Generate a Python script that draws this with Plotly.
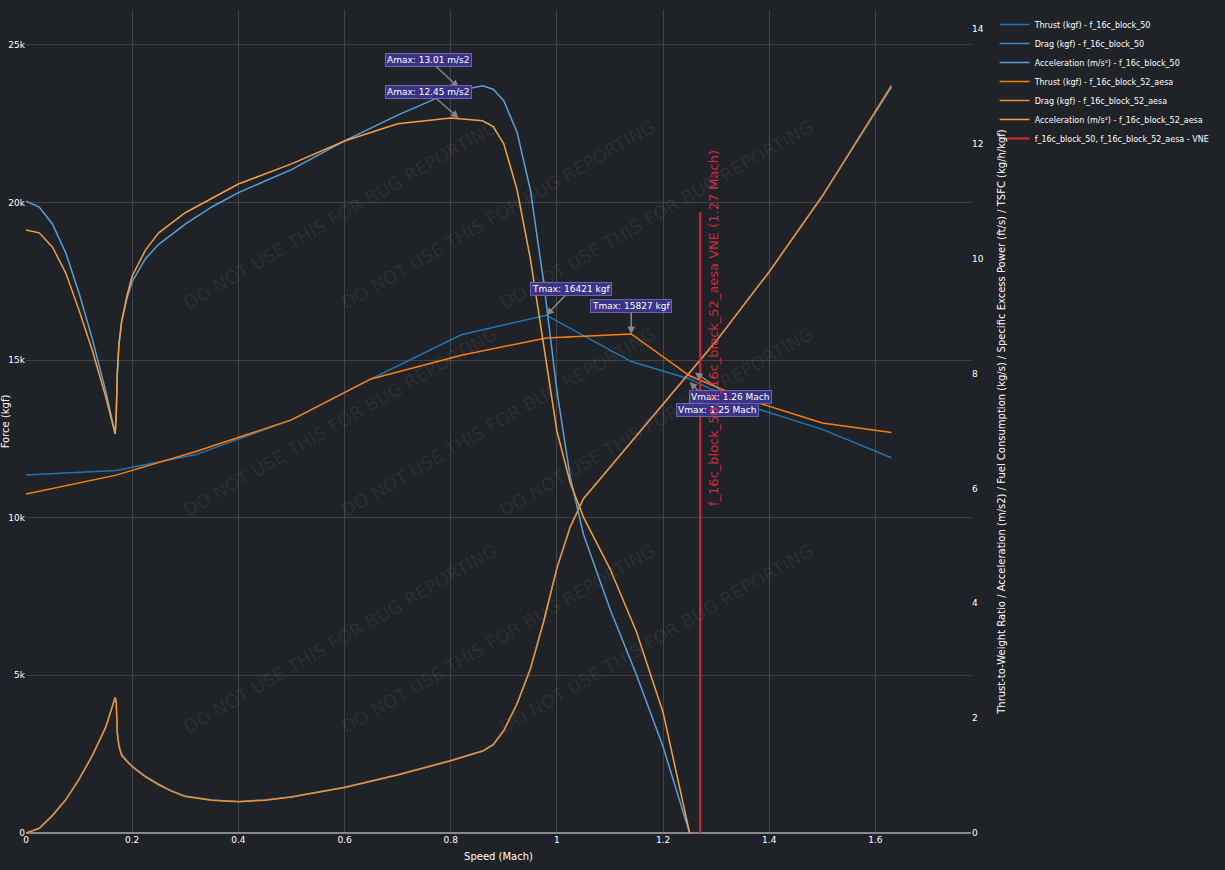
import plotly.graph_objects as go

speed_thrust = [0, 0.17, 0.32, 0.5, 0.65, 0.82, 0.98, 1.14, 1.25, 1.35, 1.5, 1.63]
thrust_b50 = [11350, 11500, 12000, 13100, 14400, 15800, 16421, 14950, 14400, 13600, 12800, 11900]
thrust_b52 = [10750, 11350, 12100, 13100, 14400, 15150, 15700, 15827, 14500, 13800, 13000, 12700]

speed_drag = [0, 0.025, 0.05, 0.075, 0.1, 0.125, 0.15, 0.168, 0.17, 0.172, 0.175, 0.18, 0.19, 0.2, 0.225,
              0.25, 0.275, 0.3, 0.35, 0.4, 0.45, 0.5, 0.6, 0.7, 0.8, 0.86, 0.88, 0.9, 0.925, 0.95, 0.975,
              1.0, 1.025, 1.05, 1.1, 1.2, 1.3, 1.4, 1.5, 1.63]
drag_b50 = [0, 150, 550, 1050, 1700, 2450, 3350, 4300, 4150, 3200, 2800, 2500, 2300, 2120, 1800,
            1550, 1330, 1170, 1050, 1000, 1050, 1150, 1450, 1850, 2300, 2600, 2800, 3250, 4100, 5200, 6700,
            8400, 9700, 10600, 11600, 13600, 15600, 17800, 20200, 23650]
drag_b52 = [0, 150, 560, 1060, 1710, 2460, 3350, 4300, 4150, 3150, 2750, 2460, 2270, 2100, 1780,
            1530, 1320, 1160, 1040, 990, 1040, 1140, 1440, 1840, 2290, 2600, 2800, 3250, 4100, 5200, 6700,
            8400, 9700, 10600, 11600, 13600, 15600, 17800, 20200, 23700]

speed_acc = [0, 0.025, 0.05, 0.075, 0.1, 0.125, 0.15, 0.168, 0.17, 0.172, 0.175, 0.18, 0.19, 0.2, 0.225,
             0.25, 0.3, 0.35, 0.4, 0.5, 0.6, 0.7, 0.8, 0.86, 0.88, 0.9, 0.925, 0.95, 0.975, 1.0, 1.025,
             1.05, 1.1, 1.15, 1.2, 1.25]
acc_b50 = [11.0, 10.9, 10.6, 10.1, 9.4, 8.6, 7.7, 6.95, 7.3, 8.0, 8.5, 8.9, 9.3, 9.6, 10.0,
           10.25, 10.6, 10.9, 11.15, 11.55, 12.05, 12.5, 12.9, 13.01, 12.95, 12.75, 12.2, 11.2, 9.6, 7.7, 6.2,
           5.2, 3.9, 2.75, 1.5, 0.0]
acc_b52 = [10.5, 10.45, 10.2, 9.75, 9.1, 8.4, 7.6, 6.95, 7.3, 8.0, 8.5, 8.9, 9.35, 9.7, 10.15,
           10.45, 10.8, 11.05, 11.3, 11.65, 12.05, 12.35, 12.45, 12.4, 12.3, 12.0, 11.2, 10.0, 8.5, 7.0, 6.1,
           5.5, 4.6, 3.5, 2.1, 0.0]
vne = 1.27

fig = go.Figure()
fig.add_trace(go.Scatter(x=speed_thrust, y=thrust_b50, mode="lines", line=dict(color="#1f77b4", width=1.5),
                         name="Thrust (kgf) - f_16c_block_50"))
fig.add_trace(go.Scatter(x=speed_drag, y=drag_b50, mode="lines", line=dict(color="#3a8fd0", width=1.5),
                         name="Drag (kgf) - f_16c_block_50"))
fig.add_trace(go.Scatter(x=speed_acc, y=acc_b50, mode="lines", line=dict(color="#5aa0d8", width=1.5),
                         name="Acceleration (m/s²) - f_16c_block_50", yaxis="y2"))
fig.add_trace(go.Scatter(x=speed_thrust, y=thrust_b52, mode="lines", line=dict(color="#ff7f0e", width=1.5),
                         name="Thrust (kgf) - f_16c_block_52_aesa"))
fig.add_trace(go.Scatter(x=speed_drag, y=drag_b52, mode="lines", line=dict(color="#f28e2b", width=1.5),
                         name="Drag (kgf) - f_16c_block_52_aesa"))
fig.add_trace(go.Scatter(x=speed_acc, y=acc_b52, mode="lines", line=dict(color="#f5a040", width=1.5),
                         name="Acceleration (m/s²) - f_16c_block_52_aesa", yaxis="y2"))
fig.add_trace(go.Scatter(x=[vne, vne], y=[0, 19700], mode="lines", line=dict(color="#d62839", width=2),
                         name="f_16c_block_50, f_16c_block_52_aesa - VNE"))

box = dict(bgcolor="#3b3385", bordercolor="#6a64b0", borderwidth=1, font=dict(color="white", size=9),
           showarrow=True, arrowhead=2, arrowcolor="#888888", arrowwidth=1.5)
fig.add_annotation(x=0.815, y=12.98, yref="y2", text="Amax: 13.01 m/s2", ax=-30, ay=-28, **box)
fig.add_annotation(x=0.815, y=12.45, yref="y2", text="Amax: 12.45 m/s2", ax=-30, ay=-26, **box)
fig.add_annotation(x=0.98, y=16421, text="Tmax: 16421 kgf", ax=25, ay=-26, **box)
fig.add_annotation(x=1.14, y=15827, text="Tmax: 15827 kgf", ax=0, ay=-28, **box)
fig.add_annotation(x=1.25, y=14300, text="Vmax: 1.25 Mach", ax=28, ay=28, **box)
fig.add_annotation(x=1.26, y=14600, text="Vmax: 1.26 Mach", ax=36, ay=24, **box)
fig.add_annotation(x=vne + 0.025, y=16000, text="f_16c_block_50, f_16c_block_52_aesa VNE (1.27 Mach)",
                   textangle=-90, showarrow=False, font=dict(color="#d62839", size=13))

for wx in [0.16, 0.5, 0.84]:
    for wy in [0.875, 0.5, 0.113]:
        fig.add_annotation(x=wx, y=wy, xref="paper", yref="paper", text="DO NOT USE THIS FOR BUG REPORTING",
                           textangle=-30, showarrow=False, font=dict(color="rgba(255,255,255,0.07)", size=18))

fig.update_layout(
    template="plotly_dark",
    paper_bgcolor="#1f2227", plot_bgcolor="#1f2227",
    width=1225, height=870,
    margin=dict(l=26, r=250, t=10, b=37),
    font=dict(family="DejaVu Sans", size=10, color="white"),
    xaxis=dict(title=dict(text="Speed (Mach)", standoff=8, font=dict(size=10)), range=[0, 1.78], gridcolor="#444", zeroline=False,
               tickvals=[0, 0.2, 0.4, 0.6, 0.8, 1, 1.2, 1.4, 1.6], ticktext=["0", "0.2", "0.4", "0.6", "0.8", "1", "1.2", "1.4", "1.6"],
               tickfont=dict(size=9), automargin=False),
    yaxis=dict(title=dict(text="Force (kgf)", font=dict(size=10)), range=[0, 26100], gridcolor="#444", zeroline=True,
               zerolinecolor="#888", automargin=False, tickvals=[0, 5000, 10000, 15000, 20000, 25000],
               ticktext=["0", "5k", "10k", "15k", "20k", "25k"], tickfont=dict(size=9)),
    yaxis2=dict(title=dict(text="Thrust-to-Weight Ratio / Acceleration (m/s2) / Fuel Consumption (kg/s) / Specific Excess Power (ft/s) / TSFC (kg/h/kgf)",
                           font=dict(size=10)),
                overlaying="y", side="right", range=[0, 14.33], dtick=2, showgrid=False, zeroline=False,
                tickfont=dict(size=9), automargin=False),
    legend=dict(x=1.025, y=1.0, font=dict(size=8), bgcolor="rgba(0,0,0,0)"),
)

fig.write_html("out.html", config={"displayModeBar": False},
               post_script="document.body.style.margin='0';document.body.style.background='#1f2227';")
